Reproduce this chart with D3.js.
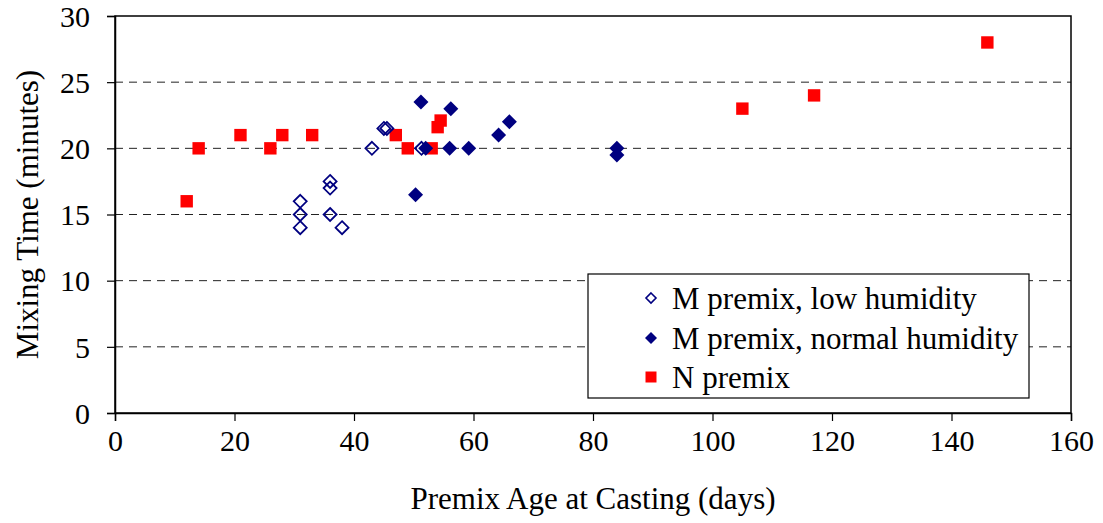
<!DOCTYPE html>
<html><head><meta charset="utf-8">
<script src="https://cdn.jsdelivr.net/npm/d3@7"></script>
<style>body{margin:0;background:#fff}svg{display:block}svg text{font-family:"Liberation Serif","Times New Roman",serif !important;fill:#000}</style>
</head><body><svg id="c" width="1103" height="523"></svg>
<script>
const xTicks = [0,20,40,60,80,100,120,140,160];
const yTicks = [0,5,10,15,20,25,30];
const lowX = [31,31,31,36,36,36,38,43,45,45.5,51.3];
const lowY = [16,15,14,17.5,17,15,14,20,21.5,21.5,20];
const normX = [51.2,56.2,64.2,66,56,59.2,50.3,52,84,84];
const normY = [23.5,23,21,22,20,20,16.5,20,20,19.5];
const nX = [12,14,21,26,28,33,47,49,53,54,54.5,105,117,146];
const nY = [16,20,21,20,21,21,21,20,20,21.6,22.1,23,24,28];
const seriesNames = ["M premix, low humidity","M premix, normal humidity","N premix"];

const svg = d3.select("#c");
const L=115,R=1071,T=16,B=413;
const x = d3.scaleLinear().domain([0,160]).range([L,R]);
const y = d3.scaleLinear().domain([0,30]).range([B,T]);

svg.append("g").selectAll("line").data(yTicks.filter(v=>v>0&&v<30)).join("line")
  .attr("x1",L).attr("x2",R).attr("y1",d=>y(d)).attr("y2",d=>y(d))
  .attr("stroke","#222").attr("stroke-width",1).attr("stroke-dasharray","8,6");

svg.append("rect").attr("x",L).attr("y",T).attr("width",R-L).attr("height",B-T)
  .attr("fill","none").attr("stroke","#000").attr("stroke-width",1.5);

const xa = svg.append("g").attr("transform",`translate(0,${B})`)
  .call(d3.axisBottom(x).tickValues(xTicks).tickSize(8).tickPadding(9).tickFormat(d3.format("d")));
const ya = svg.append("g").attr("transform",`translate(${L},0)`)
  .call(d3.axisLeft(y).tickValues(yTicks).tickSize(8).tickPadding(17).tickFormat(d3.format("d")));
[xa,ya].forEach(a=>{a.attr("font-family",null).attr("font-size",null);
  a.select(".domain").attr("stroke","#000").attr("stroke-width",1.5);
  a.selectAll(".tick line").attr("stroke","#000").attr("stroke-width",1.2);
  a.selectAll(".tick text").attr("font-size",30);});
ya.selectAll(".tick text").attr("dy","0.34em");

svg.append("text").attr("x",(L+R)/2).attr("y",509).attr("text-anchor","middle").attr("font-size",31).text("Premix Age at Casting (days)");
svg.append("text").attr("transform",`translate(38,${(T+B)/2}) rotate(-90)`).attr("text-anchor","middle").attr("font-size",31).text("Mixing Time (minutes)");

const diamond = s => `M0,${-s}L${s},0L0,${s}L${-s},0Z`;
const sq = s => `M${-s},${-s}h${2*s}v${2*s}h${-2*s}Z`;

svg.append("g").selectAll("path").data(d3.range(nX.length)).join("path")
  .attr("transform",i=>`translate(${x(nX[i])},${y(nY[i])})`).attr("d",sq(6.2)).attr("fill","#ff0000");
svg.append("g").selectAll("path").data(d3.range(normX.length)).join("path")
  .attr("transform",i=>`translate(${x(normX[i])},${y(normY[i])})`).attr("d",diamond(7.5)).attr("fill","#000080");
svg.append("g").selectAll("path").data(d3.range(lowX.length)).join("path")
  .attr("transform",i=>`translate(${x(lowX[i])},${y(lowY[i])})`).attr("d",diamond(6.5)).attr("fill","none").attr("stroke","#000080").attr("stroke-width",1.8);

const lg = svg.append("g");
lg.append("rect").attr("x",588).attr("y",274).attr("width",441).attr("height",124).attr("fill","#fff").attr("stroke","#000").attr("stroke-width",1.2);
const ly=[298,338,377];
lg.append("path").attr("transform",`translate(651,${ly[0]})`).attr("d",diamond(5)).attr("fill","none").attr("stroke","#000080").attr("stroke-width",1.6);
lg.append("path").attr("transform",`translate(651,${ly[1]})`).attr("d",diamond(6)).attr("fill","#000080");
lg.append("path").attr("transform",`translate(651,${ly[2]})`).attr("d",sq(5.5)).attr("fill","#ff0000");
lg.selectAll("text").data(seriesNames).join("text").attr("x",672).attr("y",(d,i)=>ly[i]).attr("dy","0.34em").attr("font-size",31).text(d=>d);
</script></body></html>
